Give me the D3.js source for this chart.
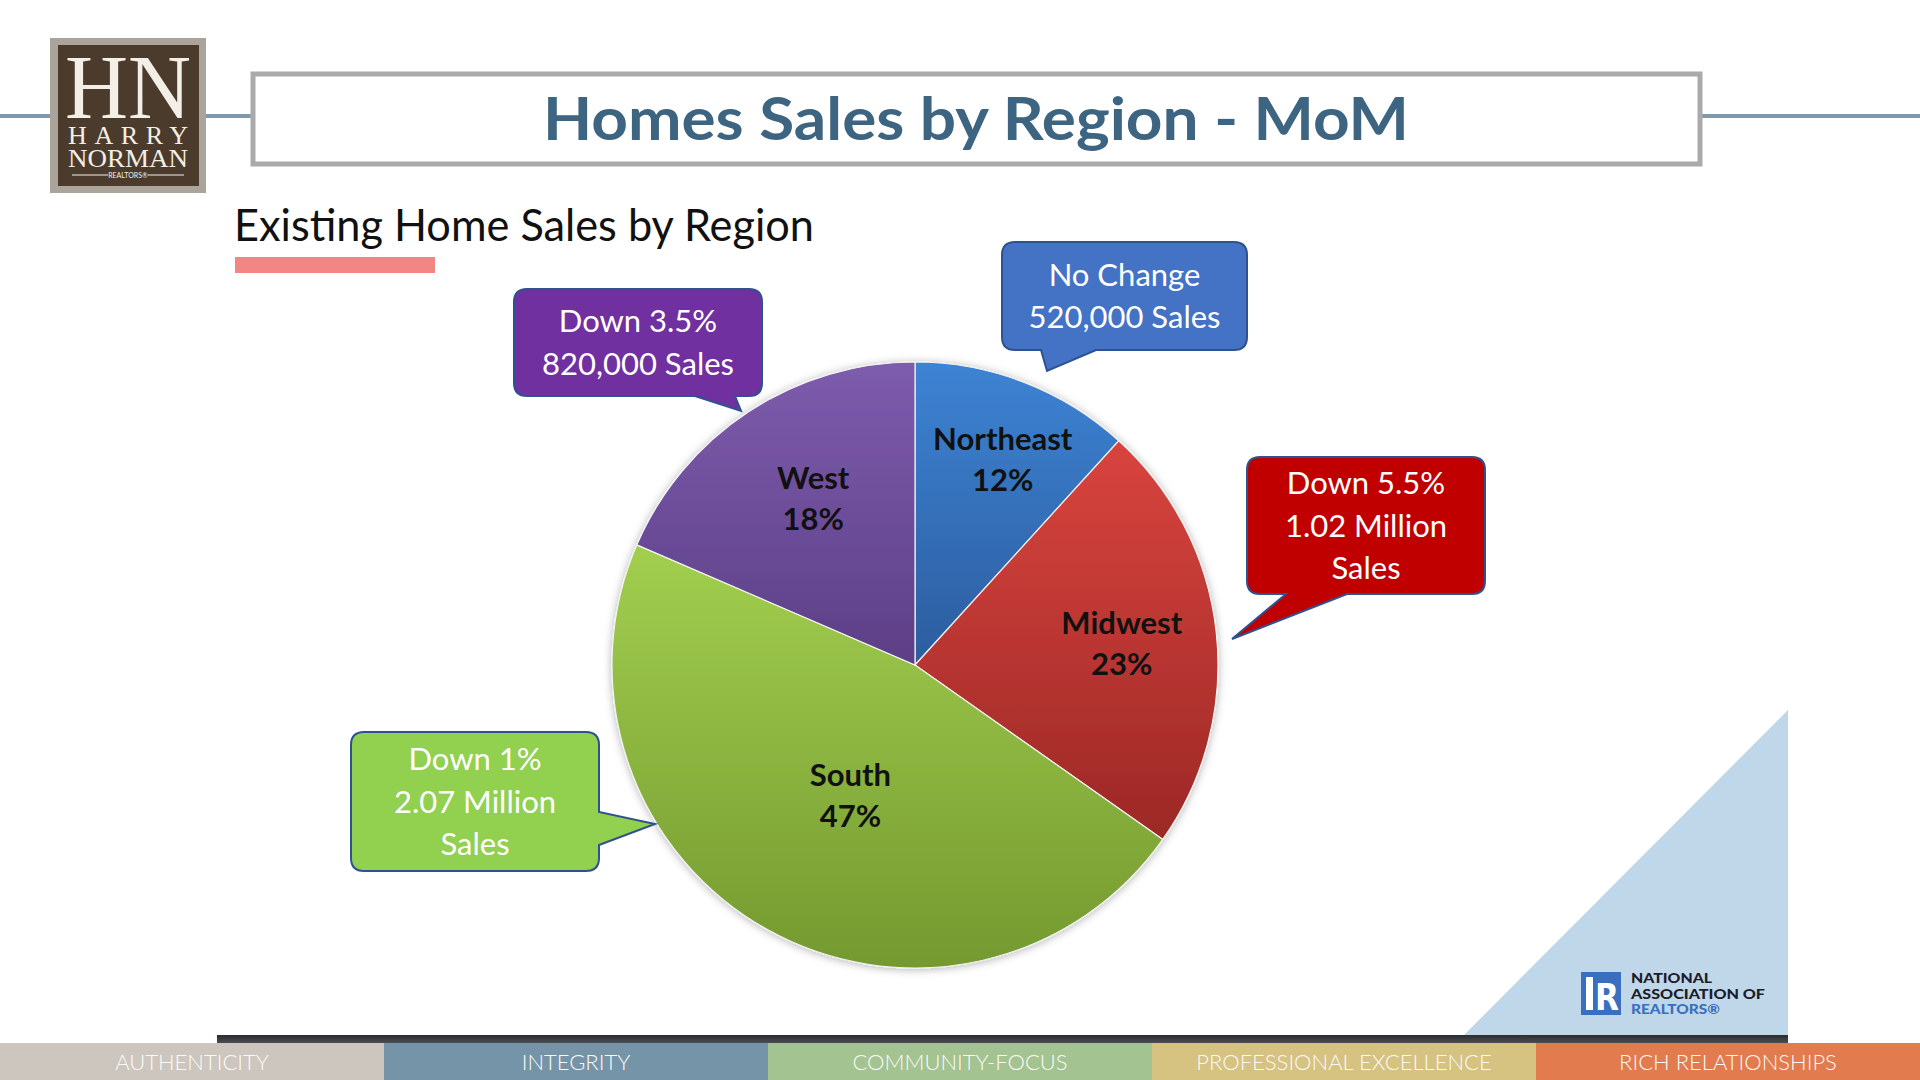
<!DOCTYPE html>
<html>
<head>
<meta charset="utf-8">
<script src="https://cdn.jsdelivr.net/npm/d3@7"></script>
<style>
  html, body { margin: 0; padding: 0; background: #fff; }
  svg { display: block; }
</style>
</head>
<body>
<div id="vis-container"></div>
<script>
// chart data
var regions = ["Northeast", "Midwest", "South", "West"];
var sales = [520000, 1020000, 2070000, 820000];
var shareLabels = ["12%", "23%", "47%", "18%"];
var calloutText = [
  ["No Change", "520,000 Sales"],
  ["Down 5.5%", "1.02 Million", "Sales"],
  ["Down 1%", "2.07 Million", "Sales"],
  ["Down 3.5%", "820,000 Sales"]
];
var footerLabels = ["AUTHENTICITY", "INTEGRITY", "COMMUNITY-FOCUS", "PROFESSIONAL EXCELLENCE", "RICH RELATIONSHIPS"];

var W = 1920, H = 1080;
var svg = d3.select("#vis-container").append("svg")
  .attr("width", W).attr("height", H);
var defs = svg.append("defs");

// ---------- header ----------
svg.append("g").selectAll("line")
  .data([[0, 50], [206, 251], [1702, 1920]])
  .enter().append("line")
  .attr("x1", function(d) { return d[0]; })
  .attr("x2", function(d) { return d[1]; })
  .attr("y1", 116).attr("y2", 116)
  .style("stroke", "#7f9aad").style("stroke-width", 4);

// logo (one text block so the stacked lines read as one mark)
var logo = svg.append("g");
logo.append("rect").attr("x", 50).attr("y", 38).attr("width", 156).attr("height", 155).style("fill", "#aaa49b");
logo.append("rect").attr("x", 58).attr("y", 45).attr("width", 141).attr("height", 141).style("fill", "#4b3b2d");
var logoText = logo.append("text").attr("text-anchor", "middle")
  .style("font-family", "'Liberation Serif', 'DejaVu Serif', serif").style("fill", "#f4efe6");
logoText.append("tspan").attr("x", 128).attr("y", 118).style("font-size", "92px")
  .attr("textLength", 126).attr("lengthAdjust", "spacingAndGlyphs").text("HN");
logoText.append("tspan").attr("x", 128).attr("y", 144).style("font-size", "26px")
  .attr("textLength", 120).attr("lengthAdjust", "spacing").text("HARRY");
logoText.append("tspan").attr("x", 128).attr("y", 167).style("font-size", "25px")
  .attr("textLength", 120).attr("lengthAdjust", "spacingAndGlyphs").text("NORMAN");
logoText.append("tspan").attr("x", 128).attr("y", 178).style("font-size", "7px")
  .style("font-family", "Lato, sans-serif").text("REALTORS®");
logo.selectAll("line.rule").data([[72, 108], [148, 184]]).enter().append("line")
  .attr("x1", function(d) { return d[0]; }).attr("x2", function(d) { return d[1]; })
  .attr("y1", 175).attr("y2", 175).style("stroke", "#f4efe6").style("stroke-width", 1);

// title box
svg.append("rect").attr("x", 253).attr("y", 74).attr("width", 1447).attr("height", 90)
  .style("fill", "#fff").style("stroke", "#aaaaaa").style("stroke-width", 5);
svg.append("text").attr("x", 976).attr("y", 140).attr("text-anchor", "middle")
  .style("font-family", "Lato, 'Open Sans', sans-serif").style("font-weight", "700")
  .style("font-size", "60px").style("fill", "#3d6581")
  .attr("textLength", 866).attr("lengthAdjust", "spacingAndGlyphs")
  .text("Homes Sales by Region - MoM");

// subtitle
svg.append("text").attr("x", 234).attr("y", 241)
  .style("font-family", "Lato, sans-serif").style("font-size", "44px").style("fill", "#111")
  .attr("textLength", 580).attr("lengthAdjust", "spacingAndGlyphs")
  .text("Existing Home Sales by Region");
svg.append("rect").attr("x", 235).attr("y", 257).attr("width", 200).attr("height", 16).style("fill", "#f28684");

// ---------- decorative bottom right ----------
svg.append("path").attr("d", "M1788,710 L1788,1036 L1463,1036 Z").style("fill", "#bfd7e8");
var nar = svg.append("g");
nar.append("rect").attr("x", 1581).attr("y", 972).attr("width", 40).attr("height", 43).style("fill", "#3a6fbf");
nar.append("rect").attr("x", 1586).attr("y", 977).attr("width", 7).attr("height", 33).style("fill", "#fff");
nar.append("text").attr("x", 1607).attr("y", 1010).attr("text-anchor", "middle")
  .style("font-family", "'DejaVu Sans', sans-serif").style("font-weight", "700").style("font-size", "38px")
  .style("fill", "#fff").attr("textLength", 24).attr("lengthAdjust", "spacingAndGlyphs").text("R");
var narLines = ["NATIONAL", "ASSOCIATION OF", "REALTORS®"];
var narWidths = [81, 134, 89];
nar.selectAll("text.nar").data(narLines).enter().append("text")
  .attr("x", 1631).attr("y", function(d, i) { return 983 + i * 15.5; })
  .style("font-family", "Lato, sans-serif").style("font-weight", "900").style("font-size", "12.5px")
  .style("fill", function(d, i) { return i == 2 ? "#3a6fbf" : "#1c1c2a"; })
  .attr("textLength", function(d, i) { return narWidths[i]; }).attr("lengthAdjust", "spacingAndGlyphs")
  .text(function(d) { return d; });

// dark bar + footer
var barGrad = defs.append("linearGradient").attr("id", "darkbar").attr("x1", 0).attr("x2", 0).attr("y1", 0).attr("y2", 1);
barGrad.append("stop").attr("offset", 0).attr("stop-color", "#2a2c30");
barGrad.append("stop").attr("offset", 1).attr("stop-color", "#4b4d52");
svg.append("rect").attr("x", 217).attr("y", 1035).attr("width", 1571).attr("height", 8).style("fill", "url(#darkbar)");

var footerColors = ["#cdc6bf", "#7694a8", "#a3c391", "#d6c382", "#e27b4d"];
var footerX = d3.scaleBand().domain(footerLabels).range([0, W]);
var footer = svg.append("g").selectAll("g").data(footerLabels).enter().append("g");
footer.append("rect")
  .attr("x", function(d) { return footerX(d); }).attr("y", 1043)
  .attr("width", footerX.bandwidth() + 0.5).attr("height", 37)
  .style("fill", function(d, i) { return footerColors[i]; });
footer.append("text")
  .attr("x", function(d) { return footerX(d) + footerX.bandwidth() / 2; }).attr("y", 1070)
  .attr("text-anchor", "middle")
  .style("font-family", "Lato, sans-serif").style("font-weight", "300").style("font-size", "22px")
  .style("fill", "#fbfaf6").text(function(d) { return d; });

// ---------- pie ----------
var cx = 915, cy = 665, radius = 303;
var data = regions.map(function(r, i) { return { region: r, sales: sales[i], share: shareLabels[i] }; });
var total = d3.sum(sales);

var pie = d3.pie().sort(null).value(function(d) { return d.sales; });
var arc = d3.arc().innerRadius(0).outerRadius(radius);
var arcs = pie(data);

var sliceColors = {
  Northeast: ["#3d83d4", "#2c5d9f"],
  Midwest:   ["#d9443e", "#9c2826"],
  South:     ["#a2cf4f", "#74992f"],
  West:      ["#7e5cad", "#5c3f86"]
};
regions.forEach(function(r, i) {
  var g = defs.append("linearGradient").attr("id", "grad" + i)
    .attr("x1", 0).attr("x2", 0).attr("y1", 0).attr("y2", 1);
  g.append("stop").attr("offset", 0).attr("stop-color", sliceColors[r][0]);
  g.append("stop").attr("offset", 1).attr("stop-color", sliceColors[r][1]);
});
var shadow = defs.append("filter").attr("id", "pieShadow").attr("x", "-10%").attr("y", "-10%").attr("width", "120%").attr("height", "120%");
shadow.append("feDropShadow").attr("dx", 0).attr("dy", 1).attr("stdDeviation", 4)
  .attr("flood-color", "#000").attr("flood-opacity", 0.3);

var pieG = svg.append("g").attr("transform", "translate(" + cx + "," + cy + ")");
pieG.append("g").attr("filter", "url(#pieShadow)")
  .selectAll("path").data(arcs).enter().append("path")
  .attr("d", arc)
  .style("fill", function(d, i) { return "url(#grad" + i + ")"; })
  .style("stroke", "#f2f2f2").style("stroke-width", 1.2);

// slice labels: big slices sit nearer the centre, thin ones further out
function labelRadius(d) {
  var f = d.data.sales / total;
  if (f > 0.4) return radius * 0.49;
  if (f < 0.15) return radius * 0.73;
  return radius * 0.66;
}
var labels = pieG.selectAll("text.slice").data(arcs).enter().append("text")
  .attr("class", "slice")
  .attr("transform", function(d) {
    var lr = labelRadius(d);
    var c = d3.arc().innerRadius(lr).outerRadius(lr).centroid(d);
    return "translate(" + (c[0] + 8) + "," + c[1] + ")";
  })
  .attr("text-anchor", "middle")
  .style("font-family", "Lato, sans-serif").style("font-weight", "700").style("font-size", "31px")
  .style("fill", "#111");
labels.append("tspan").attr("x", 0).attr("y", -9).text(function(d) { return d.data.region; });
labels.append("tspan").attr("x", 0).attr("y", 32).text(function(d) { return d.data.share; });

// ---------- callouts ----------
function bubblePath(b) {
  var x = b.x, y = b.y, w = b.w, h = b.h, r = 13;
  var p = "M" + (x + r) + "," + y + " H" + (x + w - r) + " Q" + (x + w) + "," + y + " " + (x + w) + "," + (y + r);
  if (b.side == "right") {
    p += " V" + b.b1 + " L" + b.tip[0] + "," + b.tip[1] + " L" + (x + w) + "," + b.b2;
  }
  p += " V" + (y + h - r) + " Q" + (x + w) + "," + (y + h) + " " + (x + w - r) + "," + (y + h);
  if (b.side == "bottom") {
    p += " H" + b.b2 + " L" + b.tip[0] + "," + b.tip[1] + " L" + b.b1 + "," + (y + h);
  }
  p += " H" + (x + r) + " Q" + x + "," + (y + h) + " " + x + "," + (y + h - r);
  p += " V" + (y + r) + " Q" + x + "," + y + " " + (x + r) + "," + y + " Z";
  return p;
}

var calloutBoxes = [
  { x: 1002, y: 242, w: 245, h: 108, side: "bottom", b1: 1041, b2: 1096, tip: [1047, 371], fill: "#4472c4" },
  { x: 1247, y: 457, w: 238, h: 137, side: "bottom", b1: 1286, b2: 1347, tip: [1232, 639], fill: "#c00000" },
  { x: 351,  y: 732, w: 248, h: 139, side: "right",  b1: 812,  b2: 845,  tip: [655, 824],  fill: "#92d050" },
  { x: 514,  y: 289, w: 248, h: 107, side: "bottom", b1: 695,  b2: 735,  tip: [741, 411],  fill: "#7030a0" }
];

var callouts = svg.append("g").selectAll("g").data(calloutBoxes).enter().append("g");
callouts.append("path").attr("d", bubblePath)
  .style("fill", function(d) { return d.fill; })
  .style("stroke", "#2f528f").style("stroke-width", 2);
callouts.each(function(b, i) {
  var lines = calloutText[i];
  var lineH = 42.5;
  var y0 = b.y + b.h / 2 - (lines.length - 1) * lineH / 2 + 11;
  d3.select(this).selectAll("text").data(lines).enter().append("text")
    .attr("x", b.x + b.w / 2).attr("y", function(d, j) { return y0 + j * lineH; })
    .attr("text-anchor", "middle")
    .style("font-family", "Lato, sans-serif").style("font-size", "31px").style("fill", "#fff")
    .text(function(d) { return d; });
});
</script>
</body>
</html>
